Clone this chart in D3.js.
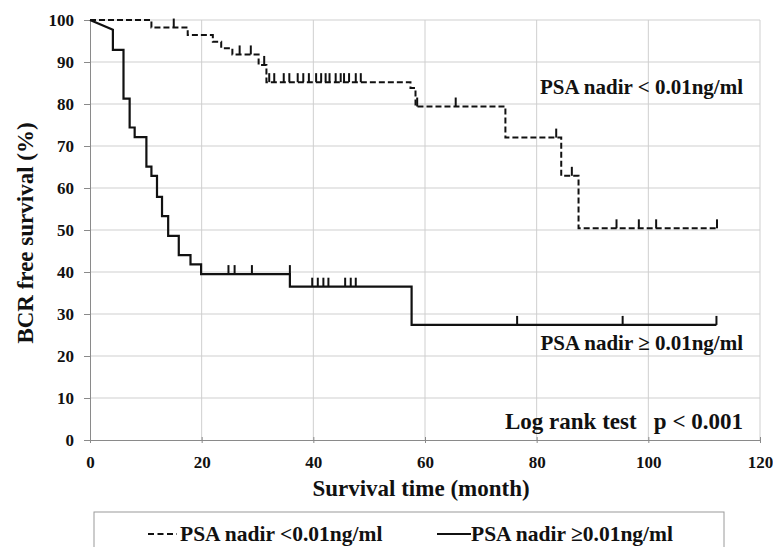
<!DOCTYPE html>
<html>
<head>
<meta charset="utf-8">
<script src="https://cdn.jsdelivr.net/npm/d3@7"></script>
<style>
  html, body { margin: 0; padding: 0; background: #fff; }
  svg { display: block; }
  text { font-family: "Liberation Serif", "Times New Roman", serif; font-weight: bold; fill: #111; }
</style>
</head>
<body>
<script>
// ---------- DATA ----------
const xTicks = [0, 20, 40, 60, 80, 100, 120];
const yTicks = [0, 10, 20, 30, 40, 50, 60, 70, 80, 90, 100];

// PSA nadir < 0.01 ng/ml (dashed)
const lowTimes = [0, 11, 17.5, 22, 23.5, 25.5, 30.2, 31.6, 57.4, 58.3, 74.4, 84.4, 87.5];
const lowSurv  = [100, 98.2, 96.4, 94.8, 93.3, 91.8, 89.3, 85.2, 83.8, 79.4, 72.0, 62.9, 50.4];
const lowEnd = 112.3;
const lowCensor = [15, 26.8, 28.8, 31.2, 32.1, 33, 34.7, 35.7, 37.2, 38.2, 39.2, 40.5, 41.4, 42.2, 42.9,
                   44, 44.9, 45.5, 46.4, 47.6, 48.5, 58.6, 65.5, 83.5, 86.3, 94.3, 98.3, 101.4, 112.3];

// PSA nadir >= 0.01 ng/ml (solid)
const highTimes = [0, 4.1, 4.1, 6.0, 7.1, 8.0, 10.1, 11.0, 12.0, 12.9, 14.0, 15.9, 18.0, 19.9, 35.8, 57.6];
const highSurv  = [100, 97.7, 92.9, 81.3, 74.4, 72.1, 65.1, 62.9, 57.9, 53.3, 48.6, 44.0, 41.8, 39.5, 36.5, 27.4];
const highEnd = 112.2;
const highCensor = [24.8, 25.9, 29, 35.8, 39.8, 40.8, 41.8, 42.7, 45.7, 46.7, 47.6, 76.5, 95.4, 112.2];

const legendLabels = ["PSA nadir <0.01ng/ml", "PSA nadir \u22650.01ng/ml"];

// ---------- CHART ----------
const W = 773, H = 547;
const svg = d3.select("body").append("svg").attr("width", W).attr("height", H);

const x = d3.scaleLinear().domain([0, 120]).range([90, 760]);
const y = d3.scaleLinear().domain([0, 100]).range([440, 20]);

// gridlines
svg.append("g").selectAll("line").data(yTicks.filter(d => d > 0)).join("line")
  .attr("x1", x(0)).attr("x2", x(120)).attr("y1", d => y(d)).attr("y2", d => y(d))
  .attr("stroke", "#cfcfcf").attr("stroke-width", 1);
svg.append("g").selectAll("line").data(xTicks.filter(d => d > 0)).join("line")
  .attr("y1", y(0)).attr("y2", y(100)).attr("x1", d => x(d)).attr("x2", d => x(d))
  .attr("stroke", "#cfcfcf").attr("stroke-width", 1);

// axes
const xAxis = svg.append("g").attr("transform", `translate(0,${y(0)})`)
  .call(d3.axisBottom(x).tickValues(xTicks).tickSize(5).tickSizeOuter(0).tickPadding(11));
const yAxis = svg.append("g").attr("transform", `translate(${x(0)},0)`)
  .call(d3.axisLeft(y).tickValues(yTicks).tickSize(6).tickSizeOuter(0).tickPadding(10));
[xAxis, yAxis].forEach(a => {
  a.select(".domain").attr("stroke", "#8a8a8a");
  a.selectAll(".tick line").attr("stroke", "#8a8a8a");
  a.selectAll("text").style("font-family", '"Liberation Serif", serif').style("font-weight", "bold")
    .style("font-size", "17px").attr("fill", "#111");
});
xAxis.selectAll(".tick line").attr("y1", -3).attr("y2", 3);

// step paths
function stepPoints(times, surv, end, diagonalFirst) {
  const pts = [[times[0], surv[0]]];
  for (let i = 1; i < times.length; i++) {
    if (!(diagonalFirst && i === 1)) pts.push([times[i], surv[i - 1]]);
    pts.push([times[i], surv[i]]);
  }
  pts.push([end, surv[surv.length - 1]]);
  return pts;
}
function survAt(times, surv, t) {
  let v = surv[0];
  for (let i = 0; i < times.length; i++) if (times[i] < t) v = surv[i];
  return v;
}
const line = d3.line().x(d => x(d[0])).y(d => y(d[1]));

svg.append("path").datum(stepPoints(lowTimes, lowSurv, lowEnd, false))
  .attr("d", line).attr("fill", "none").attr("stroke", "#111").attr("stroke-width", 2)
  .attr("stroke-dasharray", "6,3");
svg.append("path").datum(stepPoints(highTimes, highSurv, highEnd, true))
  .attr("d", line).attr("fill", "none").attr("stroke", "#111").attr("stroke-width", 2.2);

// censor ticks
svg.append("g").selectAll("line").data(lowCensor).join("line")
  .attr("x1", d => x(d)).attr("x2", d => x(d))
  .attr("y1", d => y(survAt(lowTimes, lowSurv, d))).attr("y2", d => y(survAt(lowTimes, lowSurv, d)) - 9)
  .attr("stroke", "#111").attr("stroke-width", 2);
svg.append("g").selectAll("line").data(highCensor).join("line")
  .attr("x1", d => x(d)).attr("x2", d => x(d))
  .attr("y1", d => y(survAt(highTimes, highSurv, d))).attr("y2", d => y(survAt(highTimes, highSurv, d)) - 9)
  .attr("stroke", "#111").attr("stroke-width", 2);

// annotations
svg.append("text").attr("x", 743).attr("y", 94).attr("text-anchor", "end")
  .style("font-size", "21px").text("PSA nadir < 0.01ng/ml");
svg.append("text").attr("x", 743).attr("y", 350).attr("text-anchor", "end")
  .style("font-size", "21px").text("PSA nadir \u2265 0.01ng/ml");
svg.append("text").attr("x", 505).attr("y", 429)
  .style("font-size", "23px").text("Log rank test");
svg.append("text").attr("x", 743).attr("y", 429).attr("text-anchor", "end")
  .style("font-size", "23px").text("p < 0.001");

// axis titles
svg.append("text").attr("x", 421).attr("y", 496).attr("text-anchor", "middle")
  .style("font-size", "23px").text("Survival time (month)");
svg.append("text").attr("transform", "translate(33,233) rotate(-90)").attr("text-anchor", "middle")
  .style("font-size", "23px").text("BCR free survival (%)");

// legend
svg.append("rect").attr("x", 94).attr("y", 512).attr("width", 630).attr("height", 50)
  .attr("fill", "none").attr("stroke", "#9a9a9a").attr("stroke-width", 1);
svg.append("line").attr("x1", 148).attr("x2", 177).attr("y1", 534).attr("y2", 534)
  .attr("stroke", "#111").attr("stroke-width", 2).attr("stroke-dasharray", "6,3.5");
svg.append("text").attr("x", 180).attr("y", 541).style("font-size", "21.5px").text(legendLabels[0]);
svg.append("line").attr("x1", 437).attr("x2", 471).attr("y1", 534).attr("y2", 534)
  .attr("stroke", "#111").attr("stroke-width", 2);
svg.append("text").attr("x", 471).attr("y", 541).style("font-size", "21.5px").text(legendLabels[1]);
</script>
</body>
</html>
